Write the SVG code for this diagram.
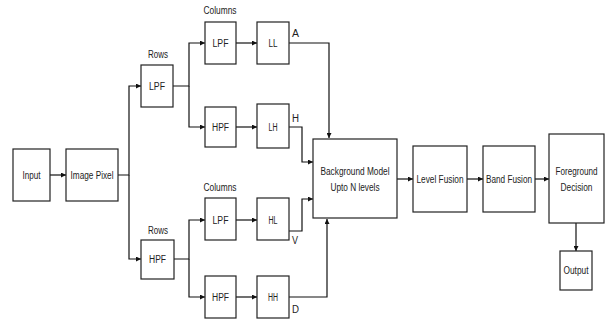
<svg xmlns="http://www.w3.org/2000/svg" width="605" height="321" viewBox="0 0 605 321">
<style>
.box{fill:#fff;stroke:#222;stroke-width:1.2}
.t{font-family:"Liberation Sans",Arial,sans-serif;font-size:10px;fill:#222;text-anchor:middle}
.l{font-family:"Liberation Sans",Arial,sans-serif;font-size:10px;fill:#222}
.c{fill:none;stroke:#111;stroke-width:1.2}
.ca{fill:none;stroke:#111;stroke-width:1.2;marker-end:url(#ah)}
</style>
<defs>
<marker id="ah" viewBox="0 0 10 10" refX="10" refY="5" markerWidth="5" markerHeight="5" orient="auto" markerUnits="userSpaceOnUse">
<path d="M0,0 L10,5 L0,10 z" fill="#111"/>
</marker>
</defs>
<rect width="605" height="321" fill="#fff"/>
<g id="connectors">
<path class="ca" d="M50,175 H66"/>
<path class="ca" d="M118,175 H129 V86 H141"/>
<path class="ca" d="M129,175 V259 H141"/>
<path class="ca" d="M173,86 H189 V43 H205"/>
<path class="ca" d="M189,86 V127 H205"/>
<path class="ca" d="M174,259 H189 V220 H205"/>
<path class="ca" d="M189,259 V297 H205"/>
<path class="ca" d="M236,43 H257"/>
<path class="ca" d="M236,127 H257"/>
<path class="ca" d="M236,220 H257"/>
<path class="ca" d="M236,297 H257"/>
<path class="ca" d="M289,43 H329 V138"/>
<path class="ca" d="M289,127 H302 V162 H313"/>
<path class="ca" d="M289,231 H302 V199 H313"/>
<path class="ca" d="M289,297 H327 V219"/>
<path class="ca" d="M397,179 H413"/>
<path class="ca" d="M467,179 H483"/>
<path class="ca" d="M535,179 H549"/>
<path class="ca" d="M576,223 V251"/>
<text class="l" x="292" y="37" textLength="7" lengthAdjust="spacingAndGlyphs">A</text>
<text class="l" x="292" y="122" textLength="7" lengthAdjust="spacingAndGlyphs">H</text>
<text class="l" x="292" y="244" textLength="6" lengthAdjust="spacingAndGlyphs">V</text>
<text class="l" x="292" y="313" textLength="7" lengthAdjust="spacingAndGlyphs">D</text>
</g>
<g id="input"><rect class="box" x="13" y="149" width="37" height="52"/><text class="t" x="31.5" y="178.5" textLength="18" lengthAdjust="spacingAndGlyphs">Input</text></g>
<g id="image-pixel"><rect class="box" x="66" y="149" width="52" height="52"/><text class="t" x="92" y="178.5" textLength="43" lengthAdjust="spacingAndGlyphs">Image Pixel</text></g>
<g id="rows-lpf"><text class="t" x="158" y="58" textLength="20" lengthAdjust="spacingAndGlyphs">Rows</text><rect class="box" x="141" y="65" width="32" height="42"/><text class="t" x="157" y="89.5" textLength="16" lengthAdjust="spacingAndGlyphs">LPF</text></g>
<g id="rows-hpf"><text class="t" x="158" y="234" textLength="20" lengthAdjust="spacingAndGlyphs">Rows</text><rect class="box" x="141" y="240" width="33" height="39"/><text class="t" x="157.5" y="262.5" textLength="17" lengthAdjust="spacingAndGlyphs">HPF</text></g>
<g id="col-lpf-1"><text class="t" x="220" y="14" textLength="33" lengthAdjust="spacingAndGlyphs">Columns</text><rect class="box" x="205" y="22" width="31" height="42"/><text class="t" x="220.5" y="46.5" textLength="16" lengthAdjust="spacingAndGlyphs">LPF</text></g>
<g id="col-hpf-1"><rect class="box" x="205" y="107" width="31" height="40"/><text class="t" x="220.5" y="130.5" textLength="17" lengthAdjust="spacingAndGlyphs">HPF</text></g>
<g id="col-lpf-2"><text class="t" x="220" y="191" textLength="33" lengthAdjust="spacingAndGlyphs">Columns</text><rect class="box" x="205" y="198" width="31" height="42"/><text class="t" x="220.5" y="223.5" textLength="16" lengthAdjust="spacingAndGlyphs">LPF</text></g>
<g id="col-hpf-2"><rect class="box" x="205" y="276" width="31" height="42"/><text class="t" x="220.5" y="301" textLength="17" lengthAdjust="spacingAndGlyphs">HPF</text></g>
<g id="ll"><rect class="box" x="257" y="22" width="32" height="42"/><text class="t" x="273" y="46.5" textLength="9" lengthAdjust="spacingAndGlyphs">LL</text></g>
<g id="lh"><rect class="box" x="257" y="104" width="32" height="44"/><text class="t" x="273" y="130.5" textLength="9" lengthAdjust="spacingAndGlyphs">LH</text></g>
<g id="hl"><rect class="box" x="257" y="198" width="32" height="42"/><text class="t" x="273" y="223.5" textLength="9" lengthAdjust="spacingAndGlyphs">HL</text></g>
<g id="hh"><rect class="box" x="257" y="276" width="32" height="42"/><text class="t" x="273" y="301" textLength="10" lengthAdjust="spacingAndGlyphs">HH</text></g>
<g id="background-model"><rect class="box" x="313" y="139" width="84" height="79"/><text class="t" x="355" y="175" textLength="69" lengthAdjust="spacingAndGlyphs">Background Model</text><text class="t" x="355" y="191" textLength="49" lengthAdjust="spacingAndGlyphs">Upto N levels</text></g>
<g id="level-fusion"><rect class="box" x="413" y="146" width="54" height="66"/><text class="t" x="440" y="182.5" textLength="47" lengthAdjust="spacingAndGlyphs">Level Fusion</text></g>
<g id="band-fusion"><rect class="box" x="483" y="146" width="52" height="66"/><text class="t" x="509" y="182.5" textLength="46" lengthAdjust="spacingAndGlyphs">Band Fusion</text></g>
<g id="foreground-decision"><rect class="box" x="549" y="134" width="55" height="89"/><text class="t" x="576.5" y="175" font-size="9.5" textLength="42" lengthAdjust="spacingAndGlyphs">Foreground</text><text class="t" x="576.5" y="191" textLength="32" lengthAdjust="spacingAndGlyphs">Decision</text></g>
<g id="output"><rect class="box" x="560" y="251" width="32" height="39"/><text class="t" x="576" y="274" textLength="25" lengthAdjust="spacingAndGlyphs">Output</text></g>
</svg>
